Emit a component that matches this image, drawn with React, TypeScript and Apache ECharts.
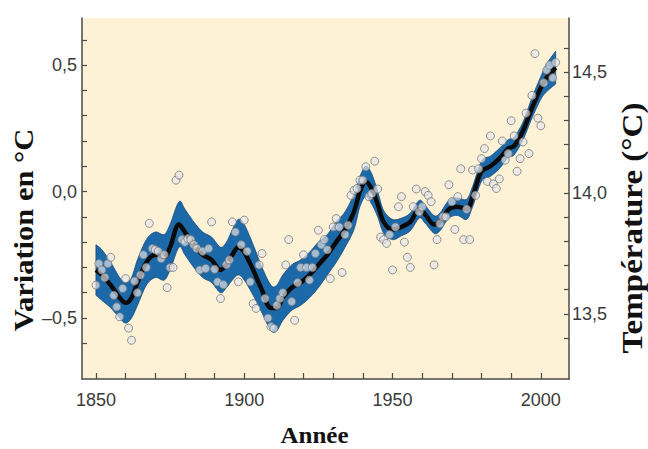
import React, { useEffect, useRef } from "react";
import * as echarts from "echarts";

// Annual global temperature anomalies (°C), one per year starting at annualStart
const annualStart = 1850;
const annualAnomaly = [
  -0.37, -0.285, -0.31, -0.34, -0.285, -0.26, -0.41, -0.456, -0.495, -0.383,
  -0.344, -0.54, -0.588, -0.354, -0.4, -0.33, -0.25, -0.3, -0.126, -0.225,
  -0.23, -0.236, -0.265, -0.25, -0.38, -0.3, -0.3, 0.045, 0.065, -0.19,
  -0.2, -0.186, -0.19, -0.21, -0.225, -0.31, -0.236, -0.304, -0.225, -0.12,
  -0.307, -0.357, -0.423, -0.368, -0.289, -0.27, -0.12, -0.16, -0.357, -0.21,
  -0.113, -0.236, -0.357, -0.443, -0.462, -0.29, -0.245, -0.423, -0.5, -0.534,
  -0.541, -0.45, -0.423, -0.4, -0.29, -0.19, -0.435, -0.509, -0.36, -0.3,
  -0.25, -0.3, -0.35, -0.3, -0.245, -0.153, -0.21, -0.19, -0.23, -0.344,
  -0.14, -0.107, -0.14, -0.32, -0.17, -0.133, -0.015, 0.005, 0.012, 0.045,
  0.045, 0.098, -0.02, -0.008, 0.12, 0.01, -0.18, -0.19, -0.205, -0.17,
  -0.31, -0.14, -0.06, -0.02, -0.2, -0.26, -0.3, -0.06, 0.01, -0.08,
  -0.06, 0.0, -0.015, -0.04, -0.29, -0.19, -0.127, -0.1, -0.1, 0.027,
  -0.04, -0.15, -0.02, 0.09, -0.19, -0.07, -0.19, 0.085, -0.015, 0.09,
  0.13, 0.17, 0.04, 0.22, 0.03, 0.012, 0.05, 0.2, 0.124, 0.15,
  0.28, 0.22, 0.08, 0.13, 0.196, 0.31, 0.15, 0.38, 0.545, 0.29,
  0.26, 0.43, 0.48, 0.5, 0.45, 0.51,
];

// Decadal smoothed curve and its uncertainty half-width
const smoothYears = [
  1850, 1852, 1855, 1858, 1860, 1862, 1864, 1867, 1870, 1873, 1875, 1878, 1880,
  1883, 1886, 1889, 1892, 1894, 1896, 1898, 1900, 1903, 1906, 1909, 1911, 1913,
  1916, 1919, 1922, 1925, 1928, 1931, 1934, 1937, 1939, 1941, 1943, 1945, 1947,
  1950, 1953, 1956, 1959, 1961, 1964, 1966, 1969, 1972, 1975, 1977, 1980, 1983,
  1986, 1989, 1991, 1994, 1997, 2000, 2002, 2005,
];
const smoothAnomaly = [
  -0.31, -0.33, -0.37, -0.42, -0.44, -0.42, -0.36, -0.28, -0.25, -0.26, -0.22, -0.13, -0.16,
  -0.21, -0.25, -0.27, -0.31, -0.29, -0.25, -0.22, -0.24, -0.31, -0.39, -0.46, -0.46, -0.42,
  -0.38, -0.36, -0.33, -0.29, -0.25, -0.2, -0.15, -0.08, 0.0, 0.04, 0.01, -0.05, -0.12,
  -0.15, -0.14, -0.12, -0.07, -0.09, -0.13, -0.12, -0.07, -0.06, -0.07, -0.02, 0.08, 0.1,
  0.13, 0.17, 0.18, 0.24, 0.33, 0.41, 0.45, 0.49,
];
const bandHalfWidth = [
  0.1, 0.1, 0.09, 0.08, 0.08, 0.08, 0.09, 0.09, 0.09, 0.09, 0.09, 0.09, 0.09,
  0.09, 0.09, 0.09, 0.09, 0.09, 0.1, 0.11, 0.11, 0.1, 0.09, 0.09, 0.09, 0.09,
  0.09, 0.09, 0.09, 0.09, 0.08, 0.08, 0.07, 0.07, 0.06, 0.06, 0.06, 0.05, 0.045,
  0.04, 0.035, 0.035, 0.035, 0.035, 0.035, 0.035, 0.035, 0.035, 0.04, 0.04, 0.04, 0.04,
  0.04, 0.035, 0.035, 0.035, 0.04, 0.045, 0.055, 0.065,
];

const xTickYears = [1850, 1860, 1870, 1880, 1890, 1900, 1910, 1920, 1930, 1940, 1950, 1960, 1970, 1980, 1990, 2000];
const xLabelYears = [1850, 1900, 1950, 2000];
const leftTicks = [-0.6, -0.5, -0.4, -0.3, -0.2, -0.1, 0, 0.1, 0.2, 0.3, 0.4, 0.5, 0.6];
const leftLabels = [-0.5, 0, 0.5];
const rightTicks = [13.4, 13.5, 13.6, 13.7, 13.8, 13.9, 14.0, 14.1, 14.2, 14.3, 14.4, 14.5, 14.6];
const rightLabels = [13.5, 14.0, 14.5];

const leftTitle = "Variation en °C";
const rightTitle = "Température (°C)";
const bottomTitle = "Année";

const tickFont = "'Liberation Sans Narrow', 'Arial Narrow', 'Liberation Sans', Arial, sans-serif";
const titleFont = "'Liberation Serif', 'Times New Roman', serif";
const comma = (v: number) =>
  (v < 0 ? "–" : "") + Math.abs(v).toFixed(1).replace(".", ",");

// Catmull-Rom interpolation of pixel points (rendering only)
function spline(pts: number[][], steps = 8): number[][] {
  const out: number[][] = [];
  for (let i = 0; i < pts.length - 1; i++) {
    const p0 = pts[Math.max(0, i - 1)];
    const p1 = pts[i];
    const p2 = pts[i + 1];
    const p3 = pts[Math.min(pts.length - 1, i + 2)];
    for (let s = 0; s < steps; s++) {
      const t = s / steps;
      const t2 = t * t;
      const t3 = t2 * t;
      const f = (a: number, b: number, c: number, d: number) =>
        0.5 * (2 * b + (-a + c) * t + (2 * a - 5 * b + 4 * c - d) * t2 + (-a + 3 * b - 3 * c + d) * t3);
      out.push([f(p0[0], p1[0], p2[0], p3[0]), f(p0[1], p1[1], p2[1], p3[1])]);
    }
  }
  out.push(pts[pts.length - 1]);
  return out;
}

export default function App() {
  const ref = useRef<HTMLDivElement>(null);
  useEffect(() => {
    const chart = echarts.init(ref.current!, null, { renderer: "svg" });
    const annual = annualAnomaly.map((v, i) => [annualStart + i, v]);
    const bandLow = smoothYears.map((_, i) => smoothAnomaly[i] - bandHalfWidth[i]);
    const bandHigh = smoothYears.map((_, i) => smoothAnomaly[i] + bandHalfWidth[i]);
    const bandData = smoothYears.map((y, i) => [y, bandLow[i], bandHigh[i]]);
    const smooth = smoothYears.map((y, i) => [y, smoothAnomaly[i]]);
    const axisColor = "#4a4a4a";
    const labelStyle = { fontFamily: tickFont, fontSize: 18, color: "#3a3a3a" };

    chart.setOption({
      animation: false,
      backgroundColor: "#ffffff",
      grid: {
        left: 82,
        right: 79,
        top: 18,
        bottom: 70,
        show: true,
        backgroundColor: "#fdf2d6",
        borderWidth: 0,
      },
      xAxis: {
        type: "value",
        min: 1845.3,
        max: 2009.5,
        axisLine: { show: true, onZero: false, lineStyle: { color: axisColor, width: 1.5 } },
        axisTick: {
          show: true,
          inside: true,
          length: 6,
          customValues: xTickYears,
          lineStyle: { color: axisColor, width: 1.2 },
        },
        axisLabel: {
          ...labelStyle,
          margin: 12,
          customValues: xLabelYears,
          formatter: (v: number) => String(v),
        },
        splitLine: { show: false },
      },
      yAxis: [
        {
          type: "value",
          min: -0.741,
          max: 0.686,
          position: "left",
          axisLine: { show: true, onZero: false, lineStyle: { color: axisColor, width: 1.5 } },
          axisTick: {
            show: true,
            inside: true,
            length: 5,
            customValues: leftTicks,
            lineStyle: { color: axisColor, width: 1.2 },
          },
          axisLabel: {
            ...labelStyle,
            margin: 5,
            customValues: leftLabels,
            formatter: (v: number) => comma(v),
          },
          splitLine: { show: false },
        },
        {
          type: "value",
          min: 13.231,
          max: 14.723,
          position: "right",
          axisLine: { show: true, onZero: false, lineStyle: { color: axisColor, width: 1.5 } },
          axisTick: {
            show: true,
            inside: true,
            length: 5,
            customValues: rightTicks,
            lineStyle: { color: axisColor, width: 1.2 },
          },
          axisLabel: {
            ...labelStyle,
            margin: 3,
            customValues: rightLabels,
            formatter: (v: number) => comma(v),
          },
          splitLine: { show: false },
        },
      ],
      series: [
        {
          type: "custom",
          coordinateSystem: "cartesian2d",
          data: bandData,
          encode: { x: 0, y: [1, 2] },
          z: 1,
          renderItem: (params: any, api: any) => {
            if (params.dataIndex !== 0) return null;
            const top = spline(bandData.map((d) => api.coord([d[0], d[2]])));
            const bottom = spline(bandData.map((d) => api.coord([d[0], d[1]]))).reverse();
            return {
              type: "polygon",
              shape: { points: top.concat(bottom) },
              style: { fill: "#1b69a8", stroke: "#15497a", lineWidth: 0.8 },
            };
          },
        },
        {
          type: "line",
          data: smooth,
          smooth: 0.35,
          symbol: "none",
          lineStyle: { color: "#0a0a0a", width: 4.5 },
          z: 2,
        },
        {
          type: "scatter",
          data: annual,
          symbol: "circle",
          symbolSize: 8,
          itemStyle: {
            color: "rgba(228,228,234,0.85)",
            borderColor: "#7a7a7a",
            borderWidth: 1,
          },
          z: 3,
        },
      ],
      graphic: [
        {
          type: "text",
          x: 24,
          y: 230,
          rotation: Math.PI / 2,
          scaleX: 1.13,
          style: {
            text: leftTitle,
            fontFamily: titleFont,
            fontSize: 27,
            fontWeight: "bold",
            fill: "#111",
            align: "center",
            verticalAlign: "middle",
          },
        },
        {
          type: "text",
          x: 632,
          y: 228,
          rotation: Math.PI / 2,
          scaleX: 1.14,
          style: {
            text: rightTitle,
            fontFamily: titleFont,
            fontSize: 29,
            fontWeight: "bold",
            fill: "#111",
            align: "center",
            verticalAlign: "middle",
          },
        },
        {
          type: "text",
          x: 314.5,
          y: 435,
          scaleY: 0.9,
          style: {
            text: bottomTitle,
            fontFamily: titleFont,
            fontSize: 25,
            fontWeight: "bold",
            fill: "#111",
            align: "center",
            verticalAlign: "middle",
          },
        },
      ],
    });
    return () => chart.dispose();
  }, []);
  return (
    <div
      ref={ref}
      style={{ position: "fixed", left: 0, top: 0, width: 648, height: 449, background: "#fff" }}
    />
  );
}
